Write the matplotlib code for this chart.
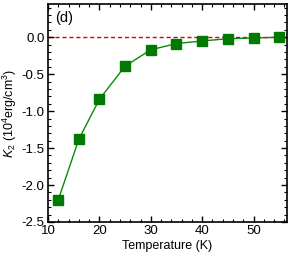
import matplotlib
matplotlib.use("Agg")
import matplotlib.pyplot as plt
from matplotlib.ticker import MultipleLocator

plt.rcParams['font.family'] = ['Liberation Sans', 'DejaVu Sans']
plt.rcParams['mathtext.fontset'] = 'custom'
plt.rcParams['mathtext.rm'] = 'Liberation Sans'
plt.rcParams['mathtext.it'] = 'Liberation Sans:italic'

temperature = [12, 16, 20, 25, 30, 35, 40, 45, 50, 55]
k2 = [-2.20, -1.38, -0.84, -0.39, -0.17, -0.085, -0.05, -0.02, -0.01, 0.0]

fig = plt.figure(figsize=(2.96, 2.59), dpi=100)
ax = fig.add_axes([48/296, 1-222/259, 239/296, 218/259])

ax.axhline(0, color='#e00000', ls=(0, (3, 2)), lw=1.0, zorder=1)
ax.plot(temperature, k2, color='#0a8a0a', lw=1.0, marker='s', ms=7.5,
        mfc='#007a00', mec='#007a00', zorder=3)

ax.set_xlim(10, 56.5)
ax.set_ylim(-2.5, 0.45)
ax.xaxis.set_major_locator(MultipleLocator(10))
ax.xaxis.set_minor_locator(MultipleLocator(2))
ax.yaxis.set_major_locator(MultipleLocator(0.5))
ax.yaxis.set_minor_locator(MultipleLocator(0.1))
ax.yaxis.set_major_formatter(matplotlib.ticker.FormatStrFormatter('%.1f'))
ax.tick_params(which='both', direction='in', top=True, right=True, labelsize=9.5, pad=2.5)
ax.tick_params(which='major', length=4, width=1)
ax.tick_params(which='minor', length=2, width=0.8)
for s in ax.spines.values():
    s.set_linewidth(1.2)

ax.set_xlabel('Temperature (K)', fontsize=9, labelpad=2)
ax.set_ylabel(r'$K_2$ (10$^4$erg/cm$^3$)', fontsize=9, labelpad=2)
ax.text(0.03, 0.97, '(d)', transform=ax.transAxes, fontsize=10.5, va='top', ha='left')

fig.savefig('out.png', dpi=100)
